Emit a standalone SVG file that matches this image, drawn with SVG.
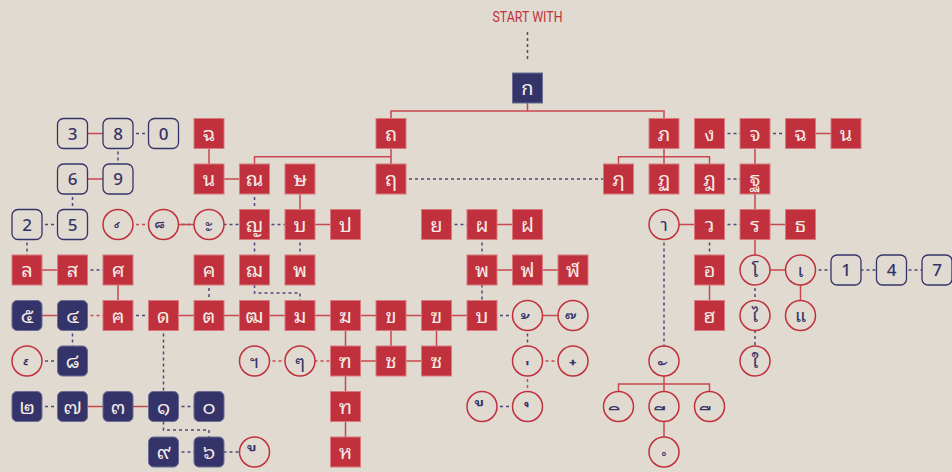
<svg xmlns="http://www.w3.org/2000/svg" width="952" height="472" viewBox="0 0 952 472">
<style>
.sq{fill:#c1313d;stroke:#d87a7e;stroke-width:1}
.nv{fill:#35346a;stroke:#6d6c94;stroke-width:1}
.ob{fill:#e0dad0;stroke:#35346a;stroke-width:1.3}
.ci{fill:#e0dad0;stroke:#c1313d;stroke-width:1.5}
.tl{fill:#f3ebe5;font-family:"Noto Sans Thai Looped","Loma","Garuda","Noto Sans Thai","Noto Sans",sans-serif;font-size:20px;text-anchor:middle}
.tn{fill:#35346a;font-family:"Noto Sans Thai Looped","Loma","Garuda","Noto Sans Thai","Noto Sans",sans-serif;font-size:18px;text-anchor:middle}
.tm{fill:#35346a;font-family:"Noto Sans Thai Looped","Loma","Garuda","Noto Sans Thai","Noto Sans",sans-serif;font-size:24px;text-anchor:middle}
.td{fill:#35346a;font-family:"Noto Sans",sans-serif;font-size:17px;font-weight:500;text-anchor:middle}
.ls{stroke:#c9474f;stroke-width:1.5;fill:none}
.ld{stroke:#4b4a7a;stroke-width:1.5;stroke-dasharray:3 3;fill:none}
.lr{stroke:#c9474f;stroke-width:1.5;stroke-dasharray:3 3;fill:none}
</style>
<rect width="952" height="472" fill="#e0dad0"/>
<text x="527.5" y="22" fill="#c1313d" font-family="Roboto,'Noto Sans',sans-serif" font-size="15" text-anchor="middle" textLength="70" lengthAdjust="spacingAndGlyphs">START WITH</text>
<g id="connectors">
<path class="ld" d="M527.5 32V60"/>
<path class="ls" d="M527.5 88V111M391 133.5V111H664V133.5"/>
<path class="ls" d="M391 133.5V179M254.5 179V156.7H391"/>
<path class="ls" d="M664 133.5V156.7M618.5 179V156.7H709.5V179M664 156.7V179"/>
<path class="ls" d="M72.5 133.5H118M800.5 133.5H846"/>
<path class="ld" d="M118 133.5H163.5M709.5 133.5H755M755 133.5H800.5"/>
<path class="ld" d="M118 133.5V179"/>
<path class="ls" d="M209 133.5V179M755 133.5V224.5"/>
<path class="ls" d="M72.5 179H118M209 179H254.5"/>
<path class="ld" d="M391 179H618.5M709.5 179H755"/>
<path class="ld" d="M72.5 179V224.5M254.5 179V224.5"/>
<path class="ls" d="M300 179V224.5"/>
<path class="ld" d="M27 224.5H72.5M163.5 224.5H300M436.5 224.5H482M709.5 224.5H755"/>
<path class="lr" d="M118 224.5H163.5"/>
<path class="ls" d="M163.5 224.5H209M300 224.5H345.5M482 224.5H527.5M664 224.5H709.5M755 224.5H800.5"/>
<path class="ld" d="M27 224.5V270M254.5 224.5V270M300 224.5V270M482 224.5V315.5M709.5 224.5V270M664 224.5V361"/>
<path class="ls" d="M755 224.5V270"/>
<path class="ls" d="M27 270H72.5M482 270H573M755 270H800.5"/>
<path class="ld" d="M72.5 270H118M800.5 270H937"/>
<path class="ls" d="M118 270V315.5M709.5 270V315.5M800.5 270V315.5"/>
<path class="ld" d="M209 270V315.5M254.5 285V293H300V300.5M755 270V361"/>
<path class="ls" d="M27 315.5H72.5M163.5 315.5H482M527.5 315.5H573"/>
<path class="lr" d="M72.5 315.5H118"/>
<path class="ld" d="M118 315.5H163.5M482 315.5H527.5"/>
<path class="ld" d="M72.5 315.5V361M163.5 315.5V406.5M527.5 315.5V361"/>
<path class="ls" d="M345.5 315.5V361M391 315.5V361M436.5 315.5V361"/>
<path class="ld" d="M27 361H72.5"/>
<path class="lr" d="M254.5 361H345.5M527.5 361H573"/>
<path class="ls" d="M345.5 361H436.5"/>
<path class="ls" d="M345.5 361V452"/>
<path class="lr" d="M527.5 361V406.5"/>
<path class="ls" d="M664 361V384M618.5 406.5V384H709.5V406.5M664 384V452"/>
<path class="ld" d="M27 406.5H72.5M163.5 406.5H209M482 406.5H527.5"/>
<path class="ls" d="M72.5 406.5H163.5"/>
<path class="ld" d="M163.5 421.5V430H209V437M163.5 452H254.5"/>
</g>
<g id="n-ko"><rect class="nv" x="512.5" y="73" width="30" height="30"/><text class="tl" x="527.5" y="95">ก</text></g>
<g id="n-3"><rect class="ob" x="57.5" y="118.5" width="30" height="30" rx="6"/><text class="td" x="72.5" y="139.5">3</text></g>
<g id="n-8"><rect class="ob" x="103" y="118.5" width="30" height="30" rx="6"/><text class="td" x="118" y="139.5">8</text></g>
<g id="n-0"><rect class="ob" x="148.5" y="118.5" width="30" height="30" rx="6"/><text class="td" x="163.5" y="139.5">0</text></g>
<g id="n-chochan1"><rect class="sq" x="194" y="118.5" width="30" height="30"/><text class="tl" x="209" y="140.5">ฉ</text></g>
<g id="n-thothung"><rect class="sq" x="376" y="118.5" width="30" height="30"/><text class="tl" x="391" y="140.5">ถ</text></g>
<g id="n-phosamphao"><rect class="sq" x="649" y="118.5" width="30" height="30"/><text class="tl" x="664" y="140.5">ภ</text></g>
<g id="n-ngo"><rect class="sq" x="694.5" y="118.5" width="30" height="30"/><text class="tl" x="709.5" y="140.5">ง</text></g>
<g id="n-jo"><rect class="sq" x="740" y="118.5" width="30" height="30"/><text class="tl" x="755" y="140.5">จ</text></g>
<g id="n-chochan2"><rect class="sq" x="785.5" y="118.5" width="30" height="30"/><text class="tl" x="800.5" y="140.5">ฉ</text></g>
<g id="n-no2"><rect class="sq" x="831" y="118.5" width="30" height="30"/><text class="tl" x="846" y="140.5">น</text></g>
<g id="n-6"><rect class="ob" x="57.5" y="164" width="30" height="30" rx="6"/><text class="td" x="72.5" y="185">6</text></g>
<g id="n-9"><rect class="ob" x="103" y="164" width="30" height="30" rx="6"/><text class="td" x="118" y="185">9</text></g>
<g id="n-no1"><rect class="sq" x="194" y="164" width="30" height="30"/><text class="tl" x="209" y="186">น</text></g>
<g id="n-nonen"><rect class="sq" x="239.5" y="164" width="30" height="30"/><text class="tl" x="254.5" y="186">ณ</text></g>
<g id="n-soruesi"><rect class="sq" x="285" y="164" width="30" height="30"/><text class="tl" x="300" y="186">ษ</text></g>
<g id="n-rue"><rect class="sq" x="376" y="164" width="30" height="30"/><text class="tl" x="391" y="186">ฤ</text></g>
<g id="n-lue"><rect class="sq" x="603.5" y="164" width="30" height="30"/><text class="tl" x="618.5" y="186">ฦ</text></g>
<g id="n-topatak"><rect class="sq" x="649" y="164" width="30" height="30"/><text class="tl" x="664" y="186">ฏ</text></g>
<g id="n-dochada"><rect class="sq" x="694.5" y="164" width="30" height="30"/><text class="tl" x="709.5" y="186">ฎ</text></g>
<g id="n-thothan"><rect class="sq" x="740" y="164" width="30" height="30"/><text class="tl" x="755" y="186">ฐ</text></g>
<g id="n-2"><rect class="ob" x="12" y="209.5" width="30" height="30" rx="6"/><text class="td" x="27" y="230.5">2</text></g>
<g id="n-5"><rect class="ob" x="57.5" y="209.5" width="30" height="30" rx="6"/><text class="td" x="72.5" y="230.5">5</text></g>
<g id="n-thanthakhat"><circle class="ci" cx="118" cy="224.5" r="15"/><text class="tm" x="118" y="244">&#160;์</text></g>
<g id="n-maitaikhu"><circle class="ci" cx="163.5" cy="224.5" r="15"/><text class="tm" x="163.5" y="244">&#160;็</text></g>
<g id="n-sara-a"><circle class="ci" cx="209" cy="224.5" r="15"/><text class="tn" x="209" y="231">ะ</text></g>
<g id="n-yoying"><rect class="sq" x="239.5" y="209.5" width="30" height="30"/><text class="tl" x="254.5" y="231.5">ญ</text></g>
<g id="n-bo1"><rect class="sq" x="285" y="209.5" width="30" height="30"/><text class="tl" x="300" y="231.5">บ</text></g>
<g id="n-po"><rect class="sq" x="330.5" y="209.5" width="30" height="30"/><text class="tl" x="345.5" y="231.5">ป</text></g>
<g id="n-yo"><rect class="sq" x="421.5" y="209.5" width="30" height="30"/><text class="tl" x="436.5" y="231.5">ย</text></g>
<g id="n-pho"><rect class="sq" x="467" y="209.5" width="30" height="30"/><text class="tl" x="482" y="231.5">ผ</text></g>
<g id="n-fo"><rect class="sq" x="512.5" y="209.5" width="30" height="30"/><text class="tl" x="527.5" y="231.5">ฝ</text></g>
<g id="n-sara-aa"><circle class="ci" cx="664" cy="224.5" r="15"/><text class="tn" x="664" y="231">า</text></g>
<g id="n-wo"><rect class="sq" x="694.5" y="209.5" width="30" height="30"/><text class="tl" x="709.5" y="231.5">ว</text></g>
<g id="n-ro"><rect class="sq" x="740" y="209.5" width="30" height="30"/><text class="tl" x="755" y="231.5">ร</text></g>
<g id="n-thothong"><rect class="sq" x="785.5" y="209.5" width="30" height="30"/><text class="tl" x="800.5" y="231.5">ธ</text></g>
<g id="n-lo"><rect class="sq" x="12" y="255" width="30" height="30"/><text class="tl" x="27" y="277">ล</text></g>
<g id="n-sosuea"><rect class="sq" x="57.5" y="255" width="30" height="30"/><text class="tl" x="72.5" y="277">ส</text></g>
<g id="n-sosala"><rect class="sq" x="103" y="255" width="30" height="30"/><text class="tl" x="118" y="277">ศ</text></g>
<g id="n-khokhwai"><rect class="sq" x="194" y="255" width="30" height="30"/><text class="tl" x="209" y="277">ค</text></g>
<g id="n-chochoe"><rect class="sq" x="239.5" y="255" width="30" height="30"/><text class="tl" x="254.5" y="277">ฌ</text></g>
<g id="n-phophan1"><rect class="sq" x="285" y="255" width="30" height="30"/><text class="tl" x="300" y="277">พ</text></g>
<g id="n-phophan2"><rect class="sq" x="467" y="255" width="30" height="30"/><text class="tl" x="482" y="277">พ</text></g>
<g id="n-fofan"><rect class="sq" x="512.5" y="255" width="30" height="30"/><text class="tl" x="527.5" y="277">ฟ</text></g>
<g id="n-lochula"><rect class="sq" x="558" y="255" width="30" height="30"/><text class="tl" x="573" y="277">ฬ</text></g>
<g id="n-o"><rect class="sq" x="694.5" y="255" width="30" height="30"/><text class="tl" x="709.5" y="277">อ</text></g>
<g id="n-sara-o"><circle class="ci" cx="755" cy="270" r="15"/><text class="tn" x="755" y="276.5">โ</text></g>
<g id="n-sara-e"><circle class="ci" cx="800.5" cy="270" r="15"/><text class="tn" x="800.5" y="276.5">เ</text></g>
<g id="n-1"><rect class="ob" x="831" y="255" width="30" height="30" rx="6"/><text class="td" x="846" y="276">1</text></g>
<g id="n-4"><rect class="ob" x="876.5" y="255" width="30" height="30" rx="6"/><text class="td" x="891.5" y="276">4</text></g>
<g id="n-7"><rect class="ob" x="922" y="255" width="30" height="30" rx="6"/><text class="td" x="937" y="276">7</text></g>
<g id="n-th5"><rect class="nv" x="12" y="300.5" width="30" height="30" rx="5"/><text class="tl" x="27" y="322.5">๕</text></g>
<g id="n-th4"><rect class="nv" x="57.5" y="300.5" width="30" height="30" rx="5"/><text class="tl" x="72.5" y="322.5">๔</text></g>
<g id="n-khokhon"><rect class="sq" x="103" y="300.5" width="30" height="30"/><text class="tl" x="118" y="322.5">ฅ</text></g>
<g id="n-do"><rect class="sq" x="148.5" y="300.5" width="30" height="30"/><text class="tl" x="163.5" y="322.5">ด</text></g>
<g id="n-to"><rect class="sq" x="194" y="300.5" width="30" height="30"/><text class="tl" x="209" y="322.5">ต</text></g>
<g id="n-phuthao"><rect class="sq" x="239.5" y="300.5" width="30" height="30"/><text class="tl" x="254.5" y="322.5">ฒ</text></g>
<g id="n-mo"><rect class="sq" x="285" y="300.5" width="30" height="30"/><text class="tl" x="300" y="322.5">ม</text></g>
<g id="n-khorakhang"><rect class="sq" x="330.5" y="300.5" width="30" height="30"/><text class="tl" x="345.5" y="322.5">ฆ</text></g>
<g id="n-khokhai"><rect class="sq" x="376" y="300.5" width="30" height="30"/><text class="tl" x="391" y="322.5">ข</text></g>
<g id="n-khokhuat"><rect class="sq" x="421.5" y="300.5" width="30" height="30"/><text class="tl" x="436.5" y="322.5">ฃ</text></g>
<g id="n-bo2"><rect class="sq" x="467" y="300.5" width="30" height="30"/><text class="tl" x="482" y="322.5">บ</text></g>
<g id="n-maitho"><circle class="ci" cx="527.5" cy="315.5" r="15"/><text class="tm" x="527.5" y="335">&#160;้</text></g>
<g id="n-maitri"><circle class="ci" cx="573" cy="315.5" r="15"/><text class="tm" x="573" y="335">&#160;๊</text></g>
<g id="n-ho-nokhuk"><rect class="sq" x="694.5" y="300.5" width="30" height="30"/><text class="tl" x="709.5" y="322.5">ฮ</text></g>
<g id="n-sara-ai1"><circle class="ci" cx="755" cy="315.5" r="15"/><text class="tn" x="755" y="322">ไ</text></g>
<g id="n-sara-ae"><circle class="ci" cx="800.5" cy="315.5" r="15"/><text class="tn" x="800.5" y="322">แ</text></g>
<g id="n-yamakkan"><circle class="ci" cx="27" cy="361" r="15"/><text class="tm" x="27" y="380.5">&#160;๎</text></g>
<g id="n-th8"><rect class="nv" x="57.5" y="346" width="30" height="30" rx="5"/><text class="tl" x="72.5" y="368">๘</text></g>
<g id="n-paiyannoi"><circle class="ci" cx="254.5" cy="361" r="15"/><text class="tn" x="254.5" y="367.5">ฯ</text></g>
<g id="n-maiyamok"><circle class="ci" cx="300" cy="361" r="15"/><text class="tn" x="300" y="367.5">ๆ</text></g>
<g id="n-thonangmontho"><rect class="sq" x="330.5" y="346" width="30" height="30"/><text class="tl" x="345.5" y="368">ฑ</text></g>
<g id="n-chochang"><rect class="sq" x="376" y="346" width="30" height="30"/><text class="tl" x="391" y="368">ช</text></g>
<g id="n-soso"><rect class="sq" x="421.5" y="346" width="30" height="30"/><text class="tl" x="436.5" y="368">ซ</text></g>
<g id="n-maiek"><circle class="ci" cx="527.5" cy="361" r="15"/><text class="tm" x="527.5" y="375.6" style="font-size:18px" stroke="#35346a" stroke-width="0.4">&#160;่</text></g>
<g id="n-maichattawa"><circle class="ci" cx="573" cy="361" r="15"/><text class="tm" x="573" y="380.5">&#160;๋</text></g>
<g id="n-maihanakat"><circle class="ci" cx="664" cy="361" r="15"/><text class="tm" x="664" y="380.5">&#160;ั</text></g>
<g id="n-sara-ai2"><circle class="ci" cx="755" cy="361" r="15"/><text class="tn" x="755" y="367.5">ใ</text></g>
<g id="n-th2"><rect class="nv" x="12" y="391.5" width="30" height="30" rx="5"/><text class="tl" x="27" y="413.5">๒</text></g>
<g id="n-th7"><rect class="nv" x="57.5" y="391.5" width="30" height="30" rx="5"/><text class="tl" x="72.5" y="413.5">๗</text></g>
<g id="n-th3"><rect class="nv" x="103" y="391.5" width="30" height="30" rx="5"/><text class="tl" x="118" y="413.5">๓</text></g>
<g id="n-th1"><rect class="nv" x="148.5" y="391.5" width="30" height="30" rx="5"/><text class="tl" x="163.5" y="413.5">๑</text></g>
<g id="n-th0"><rect class="nv" x="194" y="391.5" width="30" height="30" rx="5"/><text class="tl" x="209" y="413.5">๐</text></g>
<g id="n-thothahan"><rect class="sq" x="330.5" y="391.5" width="30" height="30"/><text class="tl" x="345.5" y="413.5">ท</text></g>
<g id="n-sara-uu1"><circle class="ci" cx="482" cy="406.5" r="15"/><text class="tm" x="482" y="398.5">&#160;ู</text></g>
<g id="n-sara-u"><circle class="ci" cx="527.5" cy="406.5" r="15"/><text class="tm" x="527.5" y="400.9" style="font-size:18px" stroke="#35346a" stroke-width="0.4">&#160;ุ</text></g>
<g id="n-sara-i"><circle class="ci" cx="618.5" cy="406.5" r="15"/><text class="tm" x="618.5" y="426">&#160;ิ</text></g>
<g id="n-sara-ii"><circle class="ci" cx="664" cy="406.5" r="15"/><text class="tm" x="664" y="426">&#160;ี</text></g>
<g id="n-sara-uee"><circle class="ci" cx="709.5" cy="406.5" r="15"/><text class="tm" x="709.5" y="426">&#160;ื</text></g>
<g id="n-th9"><rect class="nv" x="148.5" y="437" width="30" height="30" rx="5"/><text class="tl" x="163.5" y="459">๙</text></g>
<g id="n-th6"><rect class="nv" x="194" y="437" width="30" height="30" rx="5"/><text class="tl" x="209" y="459">๖</text></g>
<g id="n-sara-uu2"><circle class="ci" cx="254.5" cy="452" r="15"/><text class="tm" x="254.5" y="444">&#160;ู</text></g>
<g id="n-hohip"><rect class="sq" x="330.5" y="437" width="30" height="30"/><text class="tl" x="345.5" y="459">ห</text></g>
<g id="n-nikhahit"><circle class="ci" cx="664" cy="452" r="15"/><text class="tm" x="664" y="466.5" style="font-size:18px">&#160;ํ</text></g>
</svg>
